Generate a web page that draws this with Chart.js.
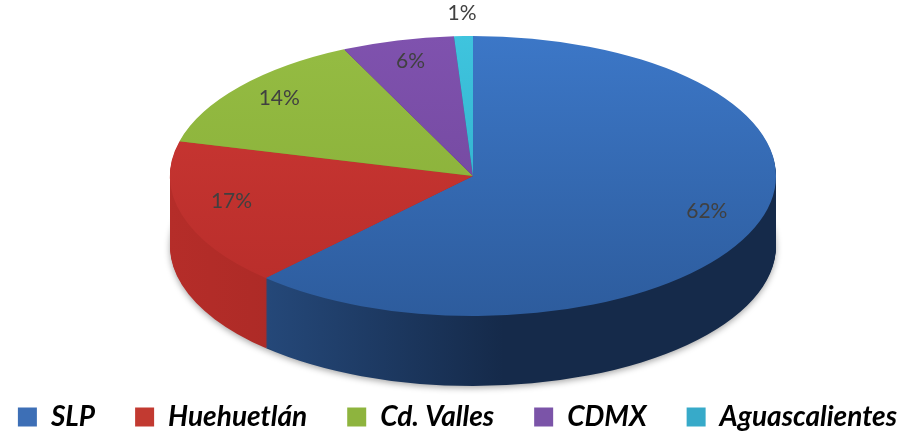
<!DOCTYPE html>
<html>
<head>
<meta charset="utf-8">
<script src="https://cdn.jsdelivr.net/npm/chart.js@4/dist/chart.umd.min.js"></script>
<style>
  html, body { margin: 0; padding: 0; background: #fff; }
  #wrap { width: 901px; height: 431px; }
</style>
</head>
<body>
<div id="wrap"><canvas id="origen"></canvas></div>
<script>
// data
const lugares = ['SLP', 'Huehuetlán', 'Cd. Valles', 'CDMX', 'Aguascalientes'];
const porcentajes = [62, 17, 14, 6, 1];

// colours: top face (light -> dark), side wall (left -> right), legend box
const caraColores = [['#3c77c7', '#2d5c9d'], ['#cd3834', '#b72d2a'], ['#95bc43', '#86ac36'], ['#7f52ae', '#6e4498'], ['#3fc4de', '#2aa8c3']];
const ladoColores = [['#2b548c', '#152a4a'], ['#b52d29', '#9c2521'], ['#769a2c', '#5f7f22'], ['#5f3a85', '#4c2e6b'], ['#2790a8', '#1d7388']];
const leyendaColores = ['#3d6fb6', '#c23a31', '#8eb43e', '#7b54a8', '#37aac9'];

// where the tilted pie sits on the page
const elipse = { cx: 473, cy: 176, rx: 303, ry: 140, fondo: 70 };

const alElipse = (ctx, arc) => {
  ctx.translate(elipse.cx, elipse.cy);
  ctx.scale(elipse.rx / arc.outerRadius, elipse.ry / arc.outerRadius);
  ctx.translate(-arc.x, -arc.y);
};

const pastel3d = {
  id: 'pastel3d',
  beforeDatasetsDraw(chart) {
    const ctx = chart.ctx;
    const arcs = chart.getDatasetMeta(0).data;
    const a0 = arcs[0];
    const grads = ladoColores.map(c => {
      const g = ctx.createLinearGradient(a0.x - a0.outerRadius, 0, a0.x + a0.outerRadius, 0);
      g.addColorStop(0, c[0]);
      g.addColorStop(0.55, c[1]);
      g.addColorStop(1, c[1]);
      return g;
    });
    for (let k = elipse.fondo; k > 0; k--) {
      ctx.save();
      if (k === elipse.fondo) {
        ctx.shadowColor = 'rgba(0,0,0,0.35)';
        ctx.shadowBlur = 6;
        ctx.shadowOffsetY = 2;
      }
      ctx.translate(0, k);
      alElipse(ctx, a0);
      arcs.forEach((arc, i) => {
        ctx.beginPath();
        ctx.moveTo(arc.x, arc.y);
        ctx.arc(arc.x, arc.y, arc.outerRadius, arc.startAngle, arc.endAngle);
        ctx.closePath();
        ctx.fillStyle = grads[i];
        ctx.fill();
      });
      ctx.restore();
    }
    ctx.save();
    alElipse(ctx, a0);
  },
  afterDatasetsDraw(chart) {
    const ctx = chart.ctx;
    ctx.restore();
    const arcs = chart.getDatasetMeta(0).data;
    const total = porcentajes.reduce((s, v) => s + v, 0);
    ctx.save();
    ctx.font = '21px Lato';
    ctx.fillStyle = '#404040';
    ctx.textAlign = 'center';
    ctx.textBaseline = 'middle';
    arcs.forEach((arc, i) => {
      const v = porcentajes[i];
      const mid = (arc.startAngle + arc.endAngle) / 2;
      const f = v / total < 0.03 ? 1.12 : 0.8;
      const x = elipse.cx + Math.cos(mid) * elipse.rx * (f + 0.03);
      const y = elipse.cy + Math.sin(mid) * elipse.ry * f - 6;
      ctx.fillText(Math.round(v / total * 100) + '%', x, y);
    });
    ctx.restore();
  }
};

new Chart(document.getElementById('origen'), {
  type: 'pie',
  data: {
    labels: lugares,
    datasets: [{
      data: porcentajes,
      borderWidth: 0,
      backgroundColor: (c) => {
        const area = c.chart.chartArea;
        const col = caraColores[c.dataIndex];
        if (!area) return col[0];
        const g = c.chart.ctx.createLinearGradient(0, area.top, 0, area.bottom);
        g.addColorStop(0, col[0]);
        g.addColorStop(1, col[1]);
        return g;
      }
    }]
  },
  options: {
    responsive: true,
    maintainAspectRatio: false,
    animation: false,
    layout: { padding: { left: -23, right: -37, top: 0, bottom: -10 } },
    plugins: {
      tooltip: { enabled: false },
      legend: {
        position: 'bottom',
        labels: {
          color: '#000',
          font: { family: 'Lato', size: 28, weight: 'bold', style: 'italic' },
          boxWidth: 19,
          boxHeight: 19,
          padding: 40,
          generateLabels(chart) {
            const items = Chart.overrides.doughnut.plugins.legend.labels.generateLabels(chart);
            items.forEach((it, i) => {
              it.fillStyle = leyendaColores[i];
              it.strokeStyle = leyendaColores[i];
              it.lineWidth = 0;
            });
            return items;
          }
        }
      }
    }
  },
  plugins: [pastel3d]
});
</script>
</body>
</html>
